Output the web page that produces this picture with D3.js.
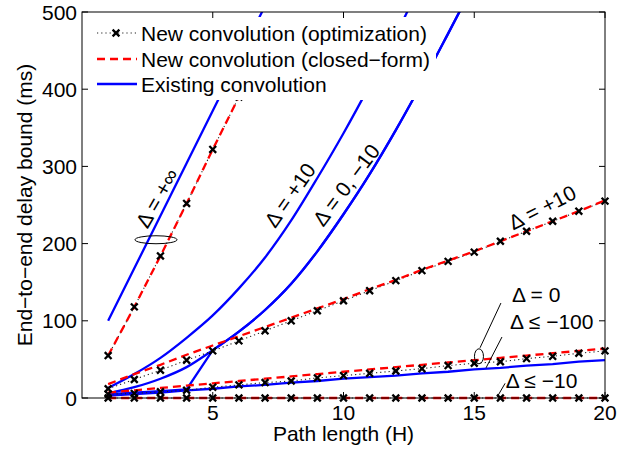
<!DOCTYPE html>
<html>
<head>
<meta charset="utf-8">
<script src="https://cdn.jsdelivr.net/npm/d3@7"></script>
<style>
	body { margin: 0; background: #fff; }
	text { font-family: "Liberation Sans", Arial, Helvetica, sans-serif; fill: #000; }
</style>
</head>
<body>
<div id="root"></div>
<script>
const pathLen		= d3.range(1, 21);

// delta = +inf
const infOpt		= [55, 118, 184, 252, 322, 390, 458];
const infExist		= [100, 168, 236, 304, 372, 440, 508];
// delta = +10
const p10Opt		= [12, 24, 36, 49, 61, 74, 87, 100, 113, 126, 139, 152, 165, 177, 189, 203, 216, 229, 242, 255];
const p10Closed		= [18, 31, 43, 56, 68, 80, 92, 104, 116, 128, 141, 153, 166, 178, 190, 203, 216, 229, 242, 256];
const p10Exist		= [13, 31, 52, 78, 107, 142, 182, 230, 285, 343, 405, 470, 540];
// delta = 0
const z0Opt			= [5, 6, 8, 10, 14, 17, 20, 22, 26, 29, 32, 35, 38, 42, 45, 47, 51, 54, 58, 61];
const z0Closed		= [7, 10, 13, 16, 19, 22, 25, 28, 31, 34, 37, 40, 43, 46, 49, 52, 55, 58, 61, 64];
const z0Exist		= [6, 14, 25, 40, 62, 86, 114, 148, 190, 238, 290, 347, 408, 472, 537];
// delta = -10
const m10Opt		= [0, 0, 0, 0, 0, 0, 0, 0, 0, 0, 0, 0, 0, 0, 0, 0, 0, 0, 0, 0];
const m10Closed		= [0, 0, 0, 0, 0, 0, 0, 0, 0, 0, 0, 0, 0, 0, 0, 0, 0, 0, 0, 0];
const m10Exist		= [5, 7, 9, 11, 62, 86, 114, 148, 190, 238, 290, 347, 408, 472, 537];
// delta <= -100
const m100Exist		= [3, 5, 7, 10, 12, 15, 17, 20, 22, 25, 27, 29, 32, 34, 37, 39, 42, 44, 47, 49];

const xTicks		= [5, 10, 15, 20];
const yTicks		= [0, 100, 200, 300, 400, 500];

const legendText	= ['New convolution (optimization)', 'New convolution (closed\u2212form)', 'Existing convolution'];

const W = 630, H = 452;
const plot = { left: 82, right: 605, top: 12, bottom: 398 };
const fs = 21;

const x = d3.scaleLinear().domain([0, 20]).range([plot.left, plot.right]);
const y = d3.scaleLinear().domain([0, 500]).range([plot.bottom, plot.top]);

const svg = d3.select('#root').append('svg').attr('width', W).attr('height', H);

// clip a little beyond the bottom/right edges so lines sitting on the axis keep full width
svg.append('clipPath').attr('id', 'clip').append('rect')
	.attr('x', plot.left).attr('y', plot.top)
	.attr('width', plot.right - plot.left + 5).attr('height', plot.bottom - plot.top + 5);

const pts = (arr) => arr.map((v, i) => [pathLen[i], v]);
const lineLin = d3.line().x(d => x(d[0])).y(d => y(d[1]));
const lineSmooth = d3.line().x(d => x(d[0])).y(d => y(d[1])).curve(d3.curveMonotoneX);

const g = svg.append('g').attr('clip-path', 'url(#clip)');

const blue	= { stroke: '#0000ff', width: 2.3, dash: null };
const red	= { stroke: '#ff0000', width: 2.3, dash: '8,5' };
const dots	= { stroke: '#222', width: 1.1, dash: '1.2,3' };

function drawLine(data, st, gen) {
	g.append('path').datum(data)
		.attr('d', gen || lineLin)
		.attr('fill', 'none')
		.attr('stroke', st.stroke)
		.attr('stroke-width', st.width)
		.attr('stroke-dasharray', st.dash);
}

function cross(r) {
	return 'M' + (-r) + ',' + (-r) + 'L' + r + ',' + r + 'M' + (-r) + ',' + r + 'L' + r + ',' + (-r);
}

function drawMarkers(arr) {
	g.append('g').selectAll('path').data(pts(arr)).enter().append('path')
		.attr('transform', d => 'translate(' + x(d[0]) + ',' + y(d[1]) + ')')
		.attr('d', cross(3.4))
		.attr('stroke', '#000')
		.attr('stroke-width', 2.3)
		.attr('fill', 'none');
}

drawLine(pts(infExist), blue);
drawLine(pts(p10Exist), blue, lineSmooth);
drawLine(pts(z0Exist), blue, lineSmooth);
// -10: straight jump up to the delta = 0 curve, then follows it
drawLine(pts(m10Exist).slice(0, 5), blue);
drawLine(pts(m10Exist).slice(4), blue, lineSmooth);
drawLine(pts(m100Exist), blue);

[infOpt, p10Opt, z0Opt, m10Opt].forEach(a => drawLine(pts(a), dots));
[infOpt, p10Closed, z0Closed, m10Closed].forEach(a => drawLine(pts(a), red));
[infOpt, p10Opt, z0Opt, m10Opt].forEach(a => drawMarkers(a));

// annotations
const ann = svg.append('g');
ann.append('ellipse').attr('cx', x(2.83)).attr('cy', y(205)).attr('rx', 21).attr('ry', 4)
	.attr('fill', 'none').attr('stroke', '#000').attr('stroke-width', 1);
ann.append('ellipse').attr('cx', x(15.18)).attr('cy', y(54)).attr('rx', 4.5).attr('ry', 7.5)
	.attr('fill', 'none').attr('stroke', '#000').attr('stroke-width', 1);

const annLines = [
	[[16.02, 123], [15.22, 65]],
	[[16.06, 79], [15.45, 39]],
	[[16.18, 19], [15.87, 1]],
];
annLines.forEach(l => {
	ann.append('line')
		.attr('x1', x(l[0][0])).attr('y1', y(l[0][1]))
		.attr('x2', x(l[1][0])).attr('y2', y(l[1][1]))
		.attr('stroke', '#000').attr('stroke-width', 1);
});

const rotLabels = [
	{ t: '\u0394 = +\u221e', h: 2.87, v: 259, r: -60 },
	{ t: '\u0394 = +10', h: 7.95, v: 263, r: -55 },
	{ t: '\u0394 = 0, \u221210', h: 10.1, v: 276, r: -53 },
	{ t: '\u0394 = +10', h: 17.6, v: 247, r: -27 },
];
rotLabels.forEach(o => {
	ann.append('text')
		.attr('transform', 'translate(' + x(o.h) + ',' + y(o.v) + ') rotate(' + o.r + ')')
		.attr('text-anchor', 'middle')
		.attr('dominant-baseline', 'central')
		.style('font-size', fs + 'px')
		.text(o.t);
});

const flatLabels = [
	{ t: '\u0394 = 0', h: 16.44, v: 124 },
	{ t: '\u0394 \u2264 \u2212100', h: 16.37, v: 89 },
	{ t: '\u0394 \u2264 \u221210', h: 16.2, v: 13 },
];
flatLabels.forEach(o => {
	ann.append('text')
		.attr('x', x(o.h)).attr('y', y(o.v))
		.style('font-size', fs + 'px')
		.text(o.t);
});

// legend (white box hides lines below it)
const lg = svg.append('g');
lg.append('rect').attr('x', 92).attr('y', 17).attr('width', 344).attr('height', 83).attr('fill', '#fff');
const lgRows = [33, 59, 84];
const lgStyles = [dots, red, blue];
lgRows.forEach((ry, i) => {
	lg.append('line').attr('x1', 97).attr('x2', 137).attr('y1', ry).attr('y2', ry)
		.attr('stroke', lgStyles[i].stroke).attr('stroke-width', lgStyles[i].width)
		.attr('stroke-dasharray', lgStyles[i].dash);
	if (i == 0) {
		lg.append('path').attr('transform', 'translate(116,' + ry + ')')
			.attr('d', cross(3.4)).attr('stroke', '#000').attr('stroke-width', 2.3);
	}
	lg.append('text').attr('x', 141).attr('y', ry).attr('dominant-baseline', 'central')
		.style('font-size', fs + 'px').text(legendText[i]);
});

// axes box and ticks
const ax = svg.append('g');
ax.append('rect').attr('x', plot.left).attr('y', plot.top)
	.attr('width', plot.right - plot.left).attr('height', plot.bottom - plot.top)
	.attr('fill', 'none').attr('stroke', '#000').attr('stroke-width', 1);

const tl = 6;
xTicks.forEach(t => {
	ax.append('line').attr('x1', x(t)).attr('x2', x(t)).attr('y1', plot.bottom).attr('y2', plot.bottom - tl).attr('stroke', '#000');
	ax.append('line').attr('x1', x(t)).attr('x2', x(t)).attr('y1', plot.top).attr('y2', plot.top + tl).attr('stroke', '#000');
	ax.append('text').attr('x', x(t)).attr('y', 420).attr('text-anchor', 'middle')
		.style('font-size', fs + 'px').text(t);
});
yTicks.forEach(t => {
	ax.append('line').attr('x1', plot.left).attr('x2', plot.left + tl).attr('y1', y(t)).attr('y2', y(t)).attr('stroke', '#000');
	ax.append('line').attr('x1', plot.right).attr('x2', plot.right - tl).attr('y1', y(t)).attr('y2', y(t)).attr('stroke', '#000');
	ax.append('text').attr('x', 77).attr('y', y(t)).attr('text-anchor', 'end')
		.attr('dominant-baseline', 'central')
		.style('font-size', fs + 'px').text(t);
});

ax.append('text').attr('x', (plot.left + plot.right) / 2).attr('y', 441).attr('text-anchor', 'middle')
	.style('font-size', fs + 'px').text('Path length (H)');
ax.append('text').attr('transform', 'translate(32,' + ((plot.top + plot.bottom) / 2) + ') rotate(-90)')
	.attr('text-anchor', 'middle')
	.style('font-size', fs + 'px').text('End\u2212to\u2212end delay bound (ms)');
</script>
</body>
</html>
